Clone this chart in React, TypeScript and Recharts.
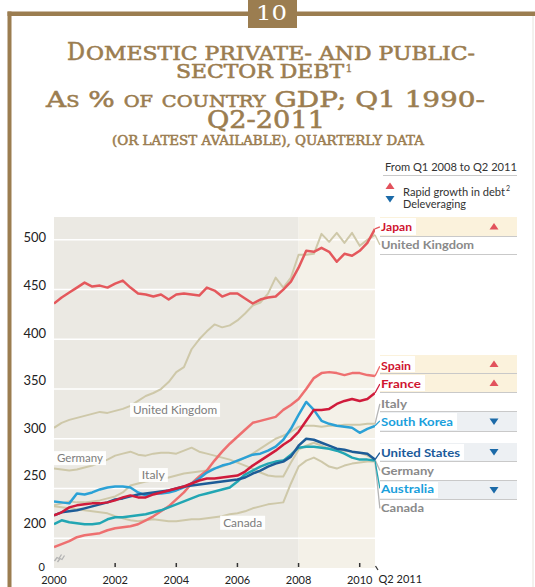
import React from 'react';
import { LineChart, Line, XAxis, YAxis, ReferenceArea, ReferenceLine, ReferenceDot } from 'recharts';

// ---- data (quarterly positions on the time axis, values in % of GDP) ----
const TIME = [
  2000, 2000.25, 2000.5, 2000.75, 2001, 2001.25, 2001.5, 2001.75,
  2002, 2002.25, 2002.5, 2002.75, 2003, 2003.25, 2003.5, 2003.75,
  2004, 2004.25, 2004.5, 2004.75, 2005, 2005.25, 2005.5, 2005.75,
  2006, 2006.25, 2006.5, 2006.75, 2007, 2007.25, 2007.5, 2007.75,
  2008, 2008.25, 2008.5, 2008.75, 2009, 2009.25, 2009.5, 2009.75,
  2010, 2010.25, 2010.5,
];

const JAPAN = [436,442,447,452,457,453,454,452,456,459,452,446,445,443,445,440,445,446,445,444,452,449,443,446,446,441,436,440,442,443,450,458,472,489,488,492,488,478,486,484,489,497,511];
const UK = [311,316,319,321,323,325,327,326,328,330,333,338,343,346,350,357,367,372,390,400,408,415,412,414,419,426,434,437,446,462,452,462,485,485,486,506,498,507,497,507,494,500,505];
const SPAIN = [191,194,197,201,203,204,205,208,210,211,212,214,218,222,227,232,239,246,255,262,268,278,287,295,302,309,316,318,320,322,329,334,340,350,361,366,367,366,364,366,366,364,363];
const FRANCE = [223,226,231,233,234,235,235,236,238,241,243,241,241,244,246,248,250,252,255,258,260,260,261,262,263,267,273,278,283,288,294,299,307,318,329,329,330,335,338,340,338,340,346];
const ITALY = [233,235,237,236,236,237,238,240,242,246,253,255,257,258,259,261,263,265,266,267,268,270,272,275,277,281,285,290,295,300,303,307,312,313,313,312,313,313,314,314,314,315,315];
const SOUTH_KOREA = [237,236,235,245,244,246,249,251,252,252,251,246,243,245,245,246,248,251,255,260,266,270,273,275,278,281,284,285,288,292,299,310,324,337,329,318,315,313,312,311,306,310,313];
const US = [223,226,227,228,230,232,234,236,239,240,242,244,245,246,247,248,250,252,253,254,255,256,257,258,259,261,265,268,272,275,277,282,293,300,299,296,293,290,289,287,286,285,279];
const GERMANY = [270,269,268,269,271,273,276,279,283,285,287,284,283,285,286,286,285,288,291,287,285,283,281,279,276,273,270,266,263,262,262,276,289,293,296,293,290,289,288,287,286,283,279];
const AUSTRALIA = [214,218,216,215,214,214,215,219,221,221,222,223,224,226,228,231,234,237,240,243,245,247,249,251,257,264,268,272,275,277,278,284,291,292,292,291,290,288,285,281,279,279,278];
const CANADA = [232,231,230,229,228,227,226,225,222,220,218,217,218,219,218,217,217,218,219,219,220,221,222,224,225,227,230,232,234,235,236,255,272,278,281,277,272,270,273,275,276,277,277];

const X_TICKS = [2000, 2002, 2004, 2006, 2008, 2010, 2010.5];
const X_END = 2010.5;
const X_END_LABEL = 'Q2 2011';
const Y_TICKS = [170, 200, 250, 300, 350, 400, 450, 500];
const Y_MIN = 170;
const Y_MAX = 523;
const GRID_VALUES = [200, 250, 300, 350, 400, 450, 500];
const PHASE_START = 2008;

// ---- styling ----
const BROWN = '#9b7d50';
const C_JAPAN = '#e4585c';
const C_SPAIN = '#ee7070';
const C_FRANCE = '#d01b3b';
const C_SK = '#2ba1d6';
const C_US = '#1d5c97';
const C_AUS = '#22a6b3';
const C_BEIGE = '#cec8a9';
const C_LABEL_GRAY = '#8a8a8a';

type SeriesDef = { key: string; name: string; values: number[]; color: string; width: number; labelY: number };

const BEIGE_SERIES: SeriesDef[] = [
  { key: 'uk', name: 'United Kingdom', values: UK, color: C_BEIGE, width: 2, labelY: 495 },
  { key: 'italy', name: 'Italy', values: ITALY, color: C_BEIGE, width: 2, labelY: 335 },
  { key: 'germany', name: 'Germany', values: GERMANY, color: C_BEIGE, width: 2, labelY: 268 },
  { key: 'canada', name: 'Canada', values: CANADA, color: C_BEIGE, width: 2, labelY: 230 },
];
const COLOR_SERIES: SeriesDef[] = [
  { key: 'spain', name: 'Spain', values: SPAIN, color: C_SPAIN, width: 2.5, labelY: 373 },
  { key: 'australia', name: 'Australia', values: AUSTRALIA, color: C_AUS, width: 2.5, labelY: 250 },
  { key: 'sk', name: 'South Korea', values: SOUTH_KOREA, color: C_SK, width: 2.5, labelY: 318 },
  { key: 'us', name: 'United States', values: US, color: C_US, width: 2.5, labelY: 286 },
  { key: 'france', name: 'France', values: FRANCE, color: C_FRANCE, width: 2.5, labelY: 355 },
  { key: 'japan', name: 'Japan', values: JAPAN, color: C_JAPAN, width: 2.5, labelY: 513 },
];
const ALL_SERIES = [...BEIGE_SERIES, ...COLOR_SERIES];
const LABEL_X = 2010.66;

const rows = TIME.map((t, i) => {
  const r: Record<string, number> = { t };
  ALL_SERIES.forEach((s) => { r[s.key] = s.values[i]; });
  return r;
});

// in-plot annotation tags (data coords)
const TAGS = [
  { text: 'United Kingdom', x: 2003.96, y: 329, w: 84 },
  { text: 'Germany', x: 2000.85, y: 280.5, w: 46 },
  { text: 'Italy', x: 2003.25, y: 263.5, w: 23 },
  { text: 'Canada', x: 2006.17, y: 215.5, w: 39 },
];

const AXIS_FONT = 'Lato, "DejaVu Sans", sans-serif';

const YTick = (props: any) => {
  const { x, y, payload } = props;
  const v = payload.value as number;
  if (v === Y_MIN) {
    return (
      <text x={x - 9} y={y + 2.5} textAnchor="end" fontFamily={AXIS_FONT} fontSize={11} fill="#222">0</text>
    );
  }
  const shift = 2 + ((500 - v) * 13) / 300;
  return (
    <text x={x - 8} y={y - shift} dy="0.35em" textAnchor="end" fontFamily={AXIS_FONT} fontSize={13} fill="#222">
      {String(v)}
    </text>
  );
};

const XTick = (props: any) => {
  const { x, y, payload } = props;
  const v = payload.value as number;
  if (v === X_END) {
    return (
      <g>
        <line x1={x + 0.5} y1={y - 2} x2={x + 3} y2={y + 2} stroke="#333" strokeWidth={1.2} />
        <text x={x + 3.5} y={y + 15} textAnchor="start" fontFamily={AXIS_FONT} fontSize={11} fill="#222">{X_END_LABEL}</text>
      </g>
    );
  }
  return (
    <g>
      {v !== TIME[0] && <line x1={x} x2={x} y1={y - 5} y2={y - 1} stroke="#333" strokeWidth={1.5} />}
      <text x={x} y={y + 15.5} textAnchor="middle" fontFamily={AXIS_FONT} fontSize={11} fill="#222">{String(v)}</text>
    </g>
  );
};

const Tag = (props: any) => {
  const { cx, cy, text, w } = props;
  return (
    <g>
      <rect x={cx - w / 2 - 3} y={cy - 7} width={w + 6} height={14} fill="#ffffff" fillOpacity={0.92} />
      <text x={cx} y={cy} dy="0.36em" textAnchor="middle" fontFamily={AXIS_FONT} fontSize={12} fill="#7c7c7c" textLength={w} lengthAdjust="spacingAndGlyphs">{text}</text>
    </g>
  );
};

// ---- legend rows on the right ----
type LegendRow = { label: string; color: string; baseline: number; w: number; band?: [number, number]; bandColor?: string; arrow?: 'up' | 'down'; underline?: number };
const CREAM = '#fbf2dc';
const ICE = '#edf0f3';
const LEGEND_ROWS: LegendRow[] = [
  { label: 'Japan', color: '#d0142f', baseline: 231, w: 31, band: [217, 236], bandColor: CREAM, arrow: 'up', underline: 236.5 },
  { label: 'United Kingdom', color: C_LABEL_GRAY, baseline: 249, w: 93, underline: 254.5 },
  { label: 'Spain', color: '#d0142f', baseline: 370, w: 30, band: [355, 373], bandColor: CREAM, arrow: 'up', underline: 373.5 },
  { label: 'France', color: '#d0142f', baseline: 388, w: 40, band: [374, 392], bandColor: CREAM, arrow: 'up', underline: 392.5 },
  { label: 'Italy', color: C_LABEL_GRAY, baseline: 408, w: 26, underline: 411.5 },
  { label: 'South Korea', color: '#1aa0dc', baseline: 426, w: 72, band: [412, 431], bandColor: ICE, arrow: 'down', underline: 431.5 },
  { label: 'United States', color: '#1b5b9b', baseline: 457, w: 79, band: [443, 461], bandColor: ICE, arrow: 'down', underline: 461.5 },
  { label: 'Germany', color: C_LABEL_GRAY, baseline: 475, w: 53, underline: 480.5 },
  { label: 'Australia', color: '#1aa0dc', baseline: 493, w: 53, band: [481, 499], bandColor: ICE, arrow: 'down', underline: 499.5 },
  { label: 'Canada', color: C_LABEL_GRAY, baseline: 512, w: 43 },
];

const UpTri = ({ cx, cy, color }: { cx: number; cy: number; color: string }) => (
  <polygon points={`${cx - 4.5},${cy + 3} ${cx + 4.5},${cy + 3} ${cx},${cy - 3.5}`} fill={color} />
);
const DownTri = ({ cx, cy, color }: { cx: number; cy: number; color: string }) => (
  <polygon points={`${cx - 4.5},${cy - 3} ${cx + 4.5},${cy - 3} ${cx},${cy + 3.5}`} fill={color} />
);

const TITLE_FONT = '"DejaVu Serif", serif';
const BIG = 24;
const SMALL = 17.6;

const Overlay = () => (
  <svg width={535} height={587} style={{ position: 'absolute', left: 0, top: 0, pointerEvents: 'none' }}>
    {/* frame */}
    <rect x={7.5} y={11.5} width={528} height={4.5} fill={BROWN} />
    <rect x={7.5} y={11.5} width={4} height={576} fill={BROWN} />
    <line x1={533} y1={16} x2={533} y2={587} stroke="#e6e2dc" strokeWidth={1} />
    <rect x={248} y={0} width={49} height={28} fill={BROWN} />
    <text x={256} y={20} fontFamily={TITLE_FONT} fontSize={21} fill="#fff" textLength={31} lengthAdjust="spacingAndGlyphs">10</text>

    {/* title */}
    <g fill={BROWN} stroke={BROWN} strokeWidth={0.55} fontFamily={TITLE_FONT}>
      <text x={67} y={60} fontSize={BIG} textLength={18} lengthAdjust="spacingAndGlyphs">D</text>
      <text x={86} y={60} fontSize={SMALL} textLength={389} lengthAdjust="spacingAndGlyphs">OMESTIC PRIVATE- AND PUBLIC-</text>
      <text x={176} y={78} fontSize={SMALL}>
        <tspan textLength={168} lengthAdjust="spacingAndGlyphs">SECTOR DEBT</tspan>
        <tspan dx={1.5} dy={-6} fontSize={11} strokeWidth={0.3}>1</tspan>
      </text>
      <text x={46} y={107} fontSize={23} textLength={439} lengthAdjust="spacingAndGlyphs" style={{ fontVariant: 'small-caps' }}>As % of country GDP; Q1 1990-</text>
      <text x={207} y={128} fontSize={BIG} textLength={118} lengthAdjust="spacingAndGlyphs">Q2-2011</text>
      <text x={112} y={145} fontSize={13} textLength={312} lengthAdjust="spacingAndGlyphs">(OR LATEST AVAILABLE), QUARTERLY DATA</text>
    </g>

    {/* legend header */}
    <g fontFamily={AXIS_FONT}>
      <text x={385} y={171} fontSize={11} fill="#333" textLength={132} lengthAdjust="spacingAndGlyphs">From Q1 2008 to Q2 2011</text>
      <line x1={383} x2={517} y1={175.5} y2={175.5} stroke="#c9c9c9" strokeWidth={1} />
      <UpTri cx={390} cy={186} color="#e2525c" />
      <text x={403} y={196} fontSize={11} fill="#333">
        <tspan textLength={102} lengthAdjust="spacingAndGlyphs">Rapid growth in debt</tspan>
        <tspan dx={1} dy={-5} fontSize={7}>2</tspan>
      </text>
      <DownTri cx={390} cy={199} color="#1b6aa8" />
      <text x={403} y={208} fontSize={11} fill="#333" textLength={63} lengthAdjust="spacingAndGlyphs">Deleveraging</text>

      {LEGEND_ROWS.map((r) => (
        <g key={r.label}>
          {r.band && <rect x={380} y={r.band[0]} width={137} height={r.band[1] - r.band[0]} fill={r.bandColor} />}
          {r.band && <rect x={380} y={r.band[0] + 1} width={r.w + 5} height={r.band[1] - r.band[0] - 2} fill="#fff" />}
          {r.underline !== undefined && <line x1={380} x2={517} y1={r.underline} y2={r.underline} stroke="#c9c9c9" strokeWidth={1} />}
          <text x={381} y={r.baseline} fontSize={11.5} fontWeight={700} fill={r.color} textLength={r.w} lengthAdjust="spacingAndGlyphs">{r.label}</text>
          {r.arrow === 'up' && r.band && <UpTri cx={494} cy={(r.band[0] + r.band[1]) / 2} color="#e2525c" />}
          {r.arrow === 'down' && r.band && <DownTri cx={494} cy={(r.band[0] + r.band[1]) / 2} color="#1b6aa8" />}
        </g>
      ))}
    </g>

    {/* axis break mark */}
    <g stroke="#b3b3b3" strokeWidth={1.3} fill="none">
      <path d="M54.5,561 l2.5,-3.5 l2,1 l2.5,-4" />
      <path d="M57.5,562 l2.5,-3.5 l2,1 l2.5,-4" />
    </g>
  </svg>
);

export default function App() {
  return (
    <div style={{ position: 'absolute', left: 0, top: 0, width: 535, height: 587, background: '#fff', overflow: 'hidden' }}>
      <LineChart width={535} height={587} data={rows} margin={{ top: 217, right: 160, bottom: 0, left: 8 }}>
        <XAxis
          dataKey="t"
          type="number"
          domain={[TIME[0], X_END]}
          ticks={X_TICKS}
          interval={0}
          axisLine={false}
          tickLine={false}
          tickSize={0}
          tickMargin={0}
          height={19}
          tick={<XTick />}
          allowDataOverflow
        />
        <YAxis
          type="number"
          domain={[Y_MIN, Y_MAX]}
          ticks={Y_TICKS}
          interval={0}
          axisLine={false}
          tickLine={false}
          tickSize={0}
          tickMargin={0}
          width={46}
          tick={<YTick />}
          allowDataOverflow
        />
        <ReferenceArea x1={TIME[0]} x2={PHASE_START} fill="#ebe9e3" fillOpacity={1} stroke="none" />
        <ReferenceArea x1={PHASE_START} x2={X_END} fill="#f4f1e8" fillOpacity={1} stroke="none" />
        {GRID_VALUES.map((g) => (
          <ReferenceLine key={g} y={g} stroke="#ffffff" strokeWidth={1.5} />
        ))}
        {ALL_SERIES.map((s) => (
          <ReferenceLine
            key={'lead-' + s.key}
            segment={[{ x: X_END, y: s.values[s.values.length - 1] }, { x: LABEL_X, y: s.labelY }]}
            stroke={s.key === 'italy' || s.key === 'germany' || s.key === 'canada' ? '#b5b5b5' : s.color}
            strokeWidth={1.3}
            ifOverflow="visible"
          />
        ))}
        {ALL_SERIES.map((s) => (
          <Line
            key={s.key}
            dataKey={s.key}
            type="linear"
            stroke={s.color}
            strokeWidth={s.width}
            dot={false}
            activeDot={false}
            strokeLinejoin="round"
            isAnimationActive={false}
          />
        ))}
        {TAGS.map((t) => (
          <ReferenceDot
            key={t.text}
            x={t.x}
            y={t.y}
            r={1}
            shape={(p: any) => <Tag cx={p.cx} cy={p.cy} text={t.text} w={t.w} />}
          />
        ))}
      </LineChart>
      <Overlay />
    </div>
  );
}
